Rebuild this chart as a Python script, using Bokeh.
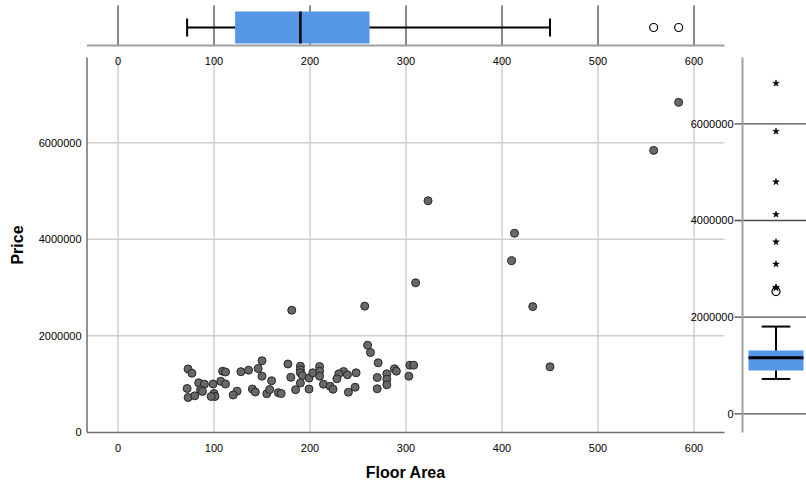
import math

from bokeh.plotting import figure
from bokeh.models import Range1d
from bokeh.core.properties import value
from bokeh.embed import file_html
from bokeh.resources import INLINE

# ---- data: floor area (sq m) and sale price of each property ----
floor_area = [
    73, 77, 72, 73, 80, 84, 90, 99, 86, 88, 100, 101, 97, 109, 112, 107, 112,
    124, 120, 128, 136, 146, 150, 150, 160, 140, 143, 155, 158, 167, 170, 177,
    180, 190, 190, 190, 192, 190, 185, 199, 199, 203, 210, 210, 210, 214, 221,
    224, 235, 230, 228, 239, 248, 240, 247, 260, 263, 271, 270, 270, 280, 280,
    280, 288, 290, 304, 308, 303,
    181, 257, 310, 323, 413, 410, 432, 450, 558, 584,
]
price = [
    1312000, 1225000, 908000, 721000, 756000, 1026000, 997000, 1001000, 881000,
    846000, 804000, 742000, 742000, 1266000, 1250000, 1057000, 1001000, 852000,
    773000, 1256000, 1287000, 1322000, 1482000, 1163000, 1069000, 897000,
    835000, 800000, 887000, 821000, 804000, 1416000, 1140000, 1370000, 1295000,
    1233000, 1177000, 1022000, 883000, 897000, 1125000, 1233000, 1364000,
    1266000, 1163000, 997000, 955000, 893000, 1260000, 1212000, 1109000,
    1192000, 1233000, 831000, 935000, 1805000, 1654000, 1440000, 1136000,
    902000, 1212000, 1101000, 984000, 1316000, 1266000, 1391000, 1391000,
    1163000,
    2530000, 2615000, 3098000, 4798000, 4125000, 3557000, 2605000, 1357000,
    5843000, 6838000,
]

# quartiles (Q1, median, Q3) used for the marginal box plots
area_quartiles = [122, 190, 262]
price_quartiles = [896000, 1159000, 1310000]

area_ticks = [0, 100, 200, 300, 400, 500, 600]
price_ticks = [0, 2000000, 4000000, 6000000]


def box_stats(vals, quart):
    q1, med, q3 = quart
    iqr = q3 - q1
    lo_f, hi_f = q1 - 1.5 * iqr, q3 + 1.5 * iqr
    lo_x, hi_x = q1 - 3 * iqr, q3 + 3 * iqr
    inside = [v for v in vals if lo_f <= v <= hi_f]
    mild = [v for v in vals if (lo_x <= v < lo_f) or (hi_f < v <= hi_x)]
    extreme = [v for v in vals if v < lo_x or v > hi_x]
    return q1, med, q3, min(inside), max(inside), mild, extreme


# ---- page geometry (pixels) ----
W, H = 806, 484
FONT = value("Liberation Sans")
TXT = "black"
BOX_BLUE = "#5596e6"

# main scatter panel
AX0, AXS = 117.5, 0.96          # px of area 0, px per sq m
PY0, PYS = 431.8, 48.25e-6      # px of price 0, px per unit of price
M_LEFT, M_RIGHT, M_TOP, M_BOTTOM = 86.5, 724.0, 57.0, 432.0

# top box plot strip
TB_C, TB_S = 27.0, 32.0
# right box plot strip
RX_C, RX_S = 775.5, 55.0
RY0, RYS = 413.3, 48.33e-6


def area_at(px):
    return (px - AX0) / AXS


def price_at(py):
    return (PY0 - py) / PYS


def tb_at(py):
    return (TB_C - py) / TB_S


def rx_at(px):
    return (px - RX_C) / RX_S


def ry_at(py):
    return (RY0 - py) / RYS


p = figure(
    width=W, height=H,
    x_range=Range1d(area_at(0), area_at(W)),
    y_range=Range1d(price_at(H), price_at(0)),
    x_axis_type=None, y_axis_type=None,
    output_backend="svg", toolbar_location=None,
    min_border=0, outline_line_color=None,
    background_fill_color="white", border_fill_color="white",
)
p.min_border_left = p.min_border_right = p.min_border_top = p.min_border_bottom = 0
p.extra_y_ranges = {
    "tb_y": Range1d(tb_at(H), tb_at(0)),
    "rb_y": Range1d(ry_at(H), ry_at(0)),
}
p.extra_x_ranges = {"rb_x": Range1d(rx_at(0), rx_at(W))}

# ---- main scatter panel ----
n_at = len(area_ticks)
p.segment(x0=area_ticks, y0=[price_at(M_TOP)] * n_at,
          x1=area_ticks, y1=[price_at(M_BOTTOM)] * n_at,
          line_color="#cfcfcf", line_width=1.5)
p.segment(x0=[area_at(M_LEFT)] * 3, y0=price_ticks[1:],
          x1=[area_at(M_RIGHT)] * 3, y1=price_ticks[1:],
          line_color="#cfcfcf", line_width=1.5)
# axis lines
p.segment(x0=[area_at(M_LEFT), area_at(M_LEFT)],
          y0=[price_at(M_TOP), price_at(M_BOTTOM)],
          x1=[area_at(M_LEFT), area_at(M_RIGHT)],
          y1=[price_at(M_BOTTOM), price_at(M_BOTTOM)],
          line_color="#6e6e6e", line_width=1.5)

p.scatter(floor_area, price, size=8, marker="circle",
          fill_color="#686868", line_color="#262626", line_width=1)

p.text(x=area_ticks, y=[price_at(447)] * n_at, text=[str(t) for t in area_ticks],
       text_align="center", text_baseline="middle", text_font=FONT,
       text_font_size="11px", text_color=TXT)
p.text(x=[area_at(81)] * len(price_ticks), y=price_ticks,
       text=[str(t) for t in price_ticks],
       text_align="right", text_baseline="middle", text_font=FONT,
       text_font_size="11px", text_color=TXT)
p.text(x=[area_at((M_LEFT + M_RIGHT) / 2)], y=[price_at(472)], text=["Floor Area"],
       text_align="center", text_baseline="middle", text_font=FONT,
       text_font_size="16px", text_font_style="bold", text_color=TXT)
p.text(x=[area_at(17)], y=[price_at((M_TOP + M_BOTTOM) / 2)], text=["Price"],
       angle=math.pi / 2, text_align="center", text_baseline="middle",
       text_font=FONT, text_font_size="16px", text_font_style="bold",
       text_color=TXT)

# ---- top strip: box plot of floor area ----
a_q1, a_med, a_q3, a_lo, a_hi, a_mild, a_ext = box_stats(floor_area, area_quartiles)
p.segment(x0=area_ticks, y0=[tb_at(5)] * n_at, x1=area_ticks, y1=[tb_at(45)] * n_at,
          line_color="#4a4a4a", line_width=1.3, y_range_name="tb_y")
p.segment(x0=[area_at(M_LEFT)], y0=[tb_at(45)], x1=[area_at(M_RIGHT)], y1=[tb_at(45)],
          line_color="#a0a0a0", line_width=2, y_range_name="tb_y")
p.quad(left=[a_q1], right=[a_q3], bottom=[-0.5], top=[0.5],
       fill_color=BOX_BLUE, line_color=None, y_range_name="tb_y")
p.segment(x0=[a_lo, a_q3], y0=[0, 0], x1=[a_q1, a_hi], y1=[0, 0],
          line_color="black", line_width=2, y_range_name="tb_y")
p.segment(x0=[a_lo, a_hi], y0=[-0.28, -0.28], x1=[a_lo, a_hi], y1=[0.28, 0.28],
          line_color="black", line_width=2, y_range_name="tb_y")
p.segment(x0=[a_med], y0=[-0.5], x1=[a_med], y1=[0.5],
          line_color="black", line_width=2.5, y_range_name="tb_y")
p.scatter(a_mild, [0] * len(a_mild), marker="circle", size=8,
          fill_color=None, line_color="black", line_width=1.2, y_range_name="tb_y")
if a_ext:
    p.scatter(a_ext, [0] * len(a_ext), marker="star", size=7,
              fill_color="black", line_color="black", y_range_name="tb_y")
p.text(x=area_ticks, y=[tb_at(60)] * n_at, text=[str(t) for t in area_ticks],
       text_align="center", text_baseline="middle", text_font=FONT,
       text_font_size="11px", text_color=TXT, y_range_name="tb_y")

# ---- right strip: box plot of price ----
r_q1, r_med, r_q3, r_lo, r_hi, r_mild, r_ext = box_stats(price, price_quartiles)
n_pt = len(price_ticks)
p.segment(x0=[rx_at(734)] * n_pt, y0=price_ticks, x1=[rx_at(W)] * n_pt, y1=price_ticks,
          line_color="#4a4a4a", line_width=1.3,
          x_range_name="rb_x", y_range_name="rb_y")
p.segment(x0=[rx_at(742)], y0=[ry_at(57)], x1=[rx_at(742)], y1=[ry_at(432)],
          line_color="#a0a0a0", line_width=2,
          x_range_name="rb_x", y_range_name="rb_y")
p.quad(left=[-0.5], right=[0.5], bottom=[r_q1], top=[r_q3],
       fill_color=BOX_BLUE, line_color=None, x_range_name="rb_x", y_range_name="rb_y")
p.segment(x0=[0, 0], y0=[r_lo, r_q3], x1=[0, 0], y1=[r_q1, r_hi],
          line_color="black", line_width=2, x_range_name="rb_x", y_range_name="rb_y")
p.segment(x0=[-0.26, -0.26], y0=[r_lo, r_hi], x1=[0.26, 0.26], y1=[r_lo, r_hi],
          line_color="black", line_width=2, x_range_name="rb_x", y_range_name="rb_y")
p.segment(x0=[-0.5], y0=[r_med], x1=[0.5], y1=[r_med],
          line_color="black", line_width=3, x_range_name="rb_x", y_range_name="rb_y")
p.scatter([0] * len(r_mild), r_mild, marker="circle", size=8,
          fill_color=None, line_color="black", line_width=1.2,
          x_range_name="rb_x", y_range_name="rb_y")
p.scatter([0] * len(r_ext), r_ext, marker="star", size=7,
          fill_color="black", line_color="black", line_width=0.5,
          x_range_name="rb_x", y_range_name="rb_y")
p.text(x=[rx_at(733)] * n_pt, y=price_ticks, text=[str(t) for t in price_ticks],
       text_align="right", text_baseline="middle", text_font=FONT,
       text_font_size="11px", text_color=TXT,
       x_range_name="rb_x", y_range_name="rb_y")

open("out.html", "w").write(file_html(p, INLINE))
